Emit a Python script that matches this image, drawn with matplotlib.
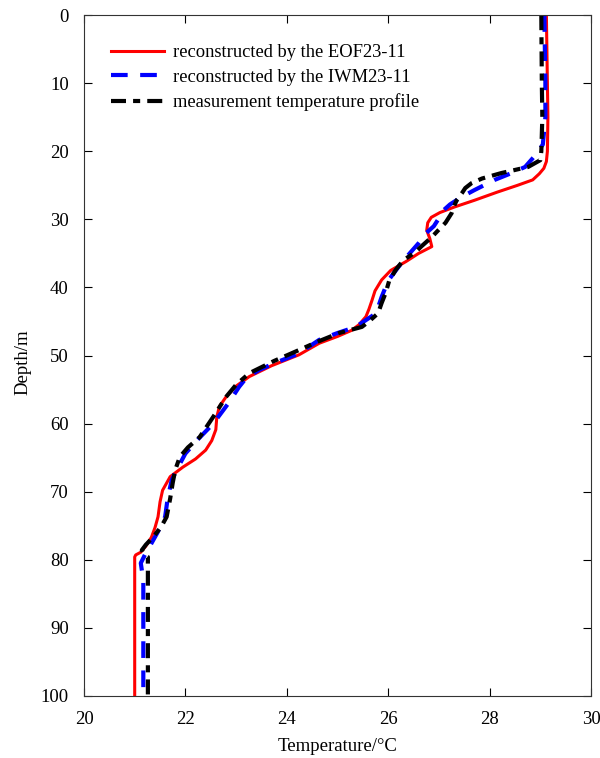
import matplotlib
matplotlib.use("Agg")
import matplotlib.pyplot as plt

plt.rcParams['font.family'] = ['Liberation Serif', 'DejaVu Serif']

# EOF23-11 reconstruction
eof_depth = [0, 5, 10, 15, 20, 21.5, 22.5, 23.3, 24.2, 25, 26, 27.2, 28.2, 29.0, 29.7, 30.5,
             31.6, 32.8, 34, 35, 36.2, 37.5, 38.9, 40.5, 41.9, 43.2, 44.3, 45.5, 46.3, 47.2,
             48.2, 49.9, 51.5, 53.1, 54.5, 56.1, 57.5, 59, 60.9, 62.5, 63.9, 65.2, 66.4, 67.8,
             69.8, 71.5, 73.7, 75.3, 76.7, 78, 78.9, 79.3, 79.6, 100]
eof_temp = [29.12, 29.13, 29.14, 29.15, 29.14, 29.12, 29.07, 28.98, 28.85, 28.55, 28.15, 27.7,
            27.3, 27.02, 26.85, 26.78, 26.76, 26.82, 26.86, 26.6, 26.35, 26.05, 25.87, 25.74,
            25.68, 25.62, 25.56, 25.42, 25.28, 25.0, 24.64, 24.24, 23.7, 23.26, 23.0, 22.8,
            22.67, 22.62, 22.6, 22.52, 22.4, 22.2, 21.95, 21.7, 21.55, 21.5, 21.46, 21.4,
            21.33, 21.22, 21.12, 21.02, 21.0, 21.0]

# IWM23-11 reconstruction
iwm_depth = [0, 10, 15, 19, 20.6, 22.3, 23.3, 24.2, 25.7, 26.7, 27.8, 28.6, 29.5, 31, 32, 33.5,
             35.2, 37, 39, 41.4, 43.8, 45.8, 46.7, 47.7, 49.7, 51, 52.1, 53.3, 54.6, 57, 60,
             62.3, 64.4, 66.5, 68.3, 71, 73.7, 76, 78, 79, 79.6, 80.5, 82, 83, 100]
iwm_temp = [29.08, 29.1, 29.1, 29.05, 28.9, 28.7, 28.4, 28.1, 27.7, 27.45, 27.22, 27.1, 27.03,
            26.9, 26.75, 26.6, 26.4, 26.2, 26.0, 25.87, 25.76, 25.36, 25.0, 24.64, 24.24, 23.8,
            23.46, 23.2, 23.06, 22.85, 22.55, 22.25, 22.0, 21.85, 21.73, 21.65, 21.6, 21.45,
            21.3, 21.22, 21.18, 21.12, 21.15, 21.17, 21.17]

# measured profile
obs_depth = [0, 10, 15, 20, 21.3, 22.3, 23.2, 24.0, 24.7, 25.4, 26.2, 27.2, 28.2, 29.1, 30.5,
             31.5, 32.6, 34, 34.8, 36, 37.4, 39, 40.8, 42.3, 43.8, 45, 45.8, 46.7, 48, 49.2,
             50.8, 52.6, 54.3, 56.1, 59, 62, 63.5, 64.9, 66.8, 68.7, 71, 73.7, 75.2, 76.7,
             77.8, 78.6, 79.2, 79.6, 100]
obs_temp = [29.02, 29.03, 29.04, 29.02, 29.0, 28.76, 28.23, 27.85, 27.64, 27.52, 27.45, 27.35,
            27.29, 27.25, 27.13, 27.0, 26.86, 26.65, 26.54, 26.3, 26.15, 26.02, 25.95, 25.87,
            25.8, 25.62, 25.48, 25.03, 24.6, 24.24, 23.75, 23.26, 23.0, 22.8, 22.55, 22.28,
            22.05, 21.89, 21.8, 21.75, 21.7, 21.63, 21.52, 21.36, 21.22, 21.14, 21.18, 21.26,
            21.26]

fig = plt.figure(figsize=(6, 7.58), dpi=100)
ax = fig.add_axes([0.14, 0.082, 0.845, 0.898])

ax.plot(eof_temp, eof_depth, color='red', lw=2.2, label='reconstructed by the EOF23-11')
ax.plot(iwm_temp, iwm_depth, color='blue', lw=3, linestyle=(0, (4, 3)),
        label='reconstructed by the IWM23-11')
ax.plot(obs_temp, obs_depth, color='black', lw=3, linestyle=(0, (3.6, 1.7, 1.7, 1.7)),
        label='measurement temperature profile')

ax.set_xlim(20, 30)
ax.set_ylim(100, 0)
ax.set_xticks(range(20, 31, 2))
ax.set_yticks(range(0, 101, 10))
ax.tick_params(direction='in', top=True, right=True, labelsize=13.5, length=6)
ax.tick_params(axis='y', pad=11)
ax.tick_params(axis='x', pad=11)
for s in ax.spines.values():
    s.set_color('#333333')
ax.set_xlabel('Temperature/°C', fontsize=13.5)
ax.xaxis.set_label_coords(0.5, -0.062)
ax.set_ylabel('Depth/m', fontsize=13.5)
ax.yaxis.set_label_coords(-0.104, 0.49)

ax.legend(loc='upper left', bbox_to_anchor=(0.02, 0.982), frameon=False, fontsize=13.3,
          handlelength=2.9, handletextpad=0.45, labelspacing=0.42)

fig.savefig('out.png', dpi=100)
